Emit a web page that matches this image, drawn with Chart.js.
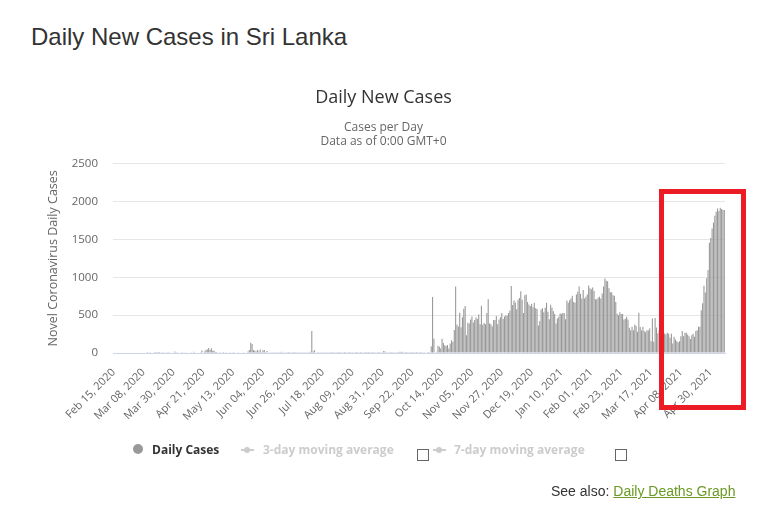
<!DOCTYPE html>
<html>
<head>
<meta charset="utf-8">
<script src="https://cdn.jsdelivr.net/npm/chart.js@4.4.0/dist/chart.umd.min.js"></script>
<style>
  html, body { margin: 0; padding: 0; background: #fff; }
  body { width: 772px; height: 510px; position: relative; overflow: hidden; font-family: 'Liberation Sans', Arial, sans-serif; }
  #pageTitle { position: absolute; left: 31px; top: 25px; margin: 0; font-size: 24px; line-height: 24px; font-weight: normal; color: #333; }
  #chartBox { position: absolute; left: 0; top: 0; width: 772px; height: 510px; }
  .leg { position: absolute; top: 444px; font: bold 12px 'Open Sans', sans-serif; line-height: 12px; white-space: nowrap; }
  .dot { position: absolute; border-radius: 50%; }
  .line { position: absolute; height: 2px; background: #ccc; }
  .box { position: absolute; width: 10px; height: 10px; border: 1px solid #666; background: #fff; }
  #seeAlso { position: absolute; left: 551px; top: 484px; font-size: 14px; line-height: 14px; color: #333; }
  #seeAlso a { color: #6a9a23; text-decoration: underline; }
  #redBox { position: absolute; left: 659px; top: 189px; width: 87px; height: 221px; border: 5px solid #ec1c24; box-sizing: border-box; }
</style>
</head>
<body>
<h1 id="pageTitle">Daily New Cases in Sri Lanka</h1>
<div id="chartBox"><canvas id="chart" width="772" height="510"></canvas></div>

<!-- legend, drawn like the original (moving averages switched off) -->
<div class="dot" style="left:133px; top:444px; width:10px; height:10px; background:#999;"></div>
<div class="leg" style="left:152px; color:#333;">Daily Cases</div>
<div class="line" style="left:241px; top:449px; width:13px;"></div>
<div class="dot" style="left:244px; top:447px; width:6px; height:6px; background:#ccc;"></div>
<div class="leg" style="left:263px; color:#ccc;">3-day moving average</div>
<div class="box" style="left:417px; top:449px;"></div>
<div class="line" style="left:433px; top:449px; width:13px;"></div>
<div class="dot" style="left:436px; top:447px; width:6px; height:6px; background:#ccc;"></div>
<div class="leg" style="left:454px; color:#ccc;">7-day moving average</div>
<div class="box" style="left:615px; top:449px;"></div>

<div id="seeAlso">See also: <a href="#">Daily Deaths Graph</a></div>
<div id="redBox"></div>

<script>
// daily new cases, Feb 15 2020 .. May 10 2021
let cases2020Feb = [0,0,0,0,0,0,0,0,0,0,0,0,0,0,0];
let cases2020Mar = [0,0,0,0,0,0,0,0,0,0,1,0,2,5,8,10,13,9,13,13,5,9,10,5,2,4,4,7,8,5,21];
let cases2020Apr = [3,2,8,8,10,9,7,4,6,7,7,2,8,15,5,5,6,6,10,33,6,20,38,47,65,40,63,31,30,13];
let cases2020May = [12,5,4,10,8,12,6,4,5,6,4,8,3,4,6,5,2,6,8,5,10,6,8,20,40,137,120,40,30,20,40];
let cases2020Jun = [20,45,10,35,40,10,25,5,4,3,2,4,2,3,2,4,2,15,5,4,3,2,12,3,2,4,1,2,3,4];
let cases2020Jul = [2,3,2,4,2,3,2,2,15,290,20,35,5,3,2,4,3,2,2,3,2,10,2,3,1,2,3,10,2,1,3];
let cases2020Aug = [2,3,1,2,4,2,1,2,3,10,2,1,3,2,1,2,4,2,1,3,12,2,3,1,2,4,2,1,3,2,2];
let cases2020Sep = [25,20,3,2,4,2,1,3,2,2,4,1,18,12,15,2,3,1,2,2,3,1,2,2,1,3,2,1,2,2];
let cases2020Oct = [2,5,3,1,2,90,739,188,5,18,96,83,60,188,133,101,92,106,60,124,170,147,303,877,372,349,532,340,473,583,620];
let cases2020Nov = [234,399,390,441,482,404,436,468,450,509,381,624,372,395,381,528,711,390,381,349,436,436,487,381,441,473,528,450,482,496];
let cases2020Dec = [496,528,560,886,633,693,666,578,702,725,817,702,528,762,771,673,642,619,651,605,664,592,582,364,423,573,592,537,596,664,546];
let cases2021Jan = [446,637,596,550,514,391,455,478,523,514,528,528,446,692,664,696,719,755,673,664,774,810,878,783,719,833,719,742,774,892,855];
let cases2021Feb = [842,865,819,710,710,728,742,719,787,878,983,955,946,855,801,801,764,755,673,519,500,537,514,514,444,453,480,444];
let cases2021Mar = [333,302,346,302,377,355,280,533,342,297,346,289,275,302,297,324,155,457,147,462,337,260,300,280,250,240,258,244,266,253,200];
let cases2021Apr = [253,124,213,178,155,142,155,222,289,222,266,266,244,222,186,235,253,213,289,300,346,346,564,657,888,799,986,1097,1456,1518];
let cases2021May = [1643,1723,1811,1865,1909,1874,1918,1900,1887,1887];

let tickLabels = [
  "Feb 15, 2020", "Mar 08, 2020", "Mar 30, 2020", "Apr 21, 2020", "May 13, 2020",
  "Jun 04, 2020", "Jun 26, 2020", "Jul 18, 2020", "Aug 09, 2020", "Aug 31, 2020",
  "Sep 22, 2020", "Oct 14, 2020", "Nov 05, 2020", "Nov 27, 2020", "Dec 19, 2020",
  "Jan 10, 2021", "Feb 01, 2021", "Feb 23, 2021", "Mar 17, 2021", "Apr 08, 2021",
  "Apr 30, 2021"
];
let tickEvery = 22;
let monthNames = ["Jan","Feb","Mar","Apr","May","Jun","Jul","Aug","Sep","Oct","Nov","Dec"];

let dailyCases = [].concat(
  cases2020Feb, cases2020Mar, cases2020Apr, cases2020May, cases2020Jun, cases2020Jul,
  cases2020Aug, cases2020Sep, cases2020Oct, cases2020Nov, cases2020Dec,
  cases2021Jan, cases2021Feb, cases2021Mar, cases2021Apr, cases2021May
);

// one category per day
let days = dailyCases.map(function(v, i) {
  let d = new Date(2020, 1, 15 + i);
  return monthNames[d.getMonth()] + " " + String(d.getDate()).padStart(2, "0") + ", " + d.getFullYear();
});

Chart.defaults.font.family = "'Open Sans', sans-serif";
Chart.defaults.color = "#666";

let casesChart = new Chart(document.getElementById("chart"), {
  type: "bar",
  data: {
    labels: days,
    datasets: [{
      label: "Daily Cases",
      data: dailyCases,
      backgroundColor: "#999999",
      borderWidth: 0,
      barPercentage: 0.8,
      categoryPercentage: 1.0
    }]
  },
  options: {
    responsive: false,
    animation: false,
    layout: { padding: { top: 87, left: 42, right: 47, bottom: 0 } },
    plugins: {
      legend: { display: false },
      tooltip: { enabled: false },
      title: {
        display: true,
        text: "Daily New Cases",
        color: "#333",
        font: { size: 18, weight: "normal" },
        padding: { top: 0, bottom: 12 }
      },
      subtitle: {
        display: true,
        text: ["Cases per Day", "Data as of 0:00 GMT+0"],
        color: "#666",
        font: { size: 12, lineHeight: 1.17 },
        padding: { top: 0, bottom: 15 }
      }
    },
    scales: {
      x: {
        grid: { display: false },
        border: { display: true, color: "#ccd6eb", width: 1 },
        afterFit: function(scale) { scale.height = 157; },
        ticks: {
          autoSkip: false,
          minRotation: 45,
          maxRotation: 45,
          padding: 5,
          color: "#666",
          font: { size: 11 },
          callback: function(value, index) {
            return index % tickEvery === 0 ? tickLabels[index / tickEvery] : null;
          }
        }
      },
      y: {
        min: 0,
        max: 2500,
        afterFit: function(scale) { scale.width = 71; },
        grid: { color: "#e6e6e6", drawTicks: false },
        border: { display: false },
        ticks: {
          stepSize: 500,
          padding: 15,
          color: "#666",
          font: { size: 11.5 },
          callback: function(value) { return String(value); }
        },
        title: {
          display: true,
          text: "Novel Coronavirus Daily Cases",
          color: "#666",
          font: { size: 12.5 },
          padding: { top: 4, bottom: 4 }
        }
      }
    }
  }
});
</script>
</body>
</html>
